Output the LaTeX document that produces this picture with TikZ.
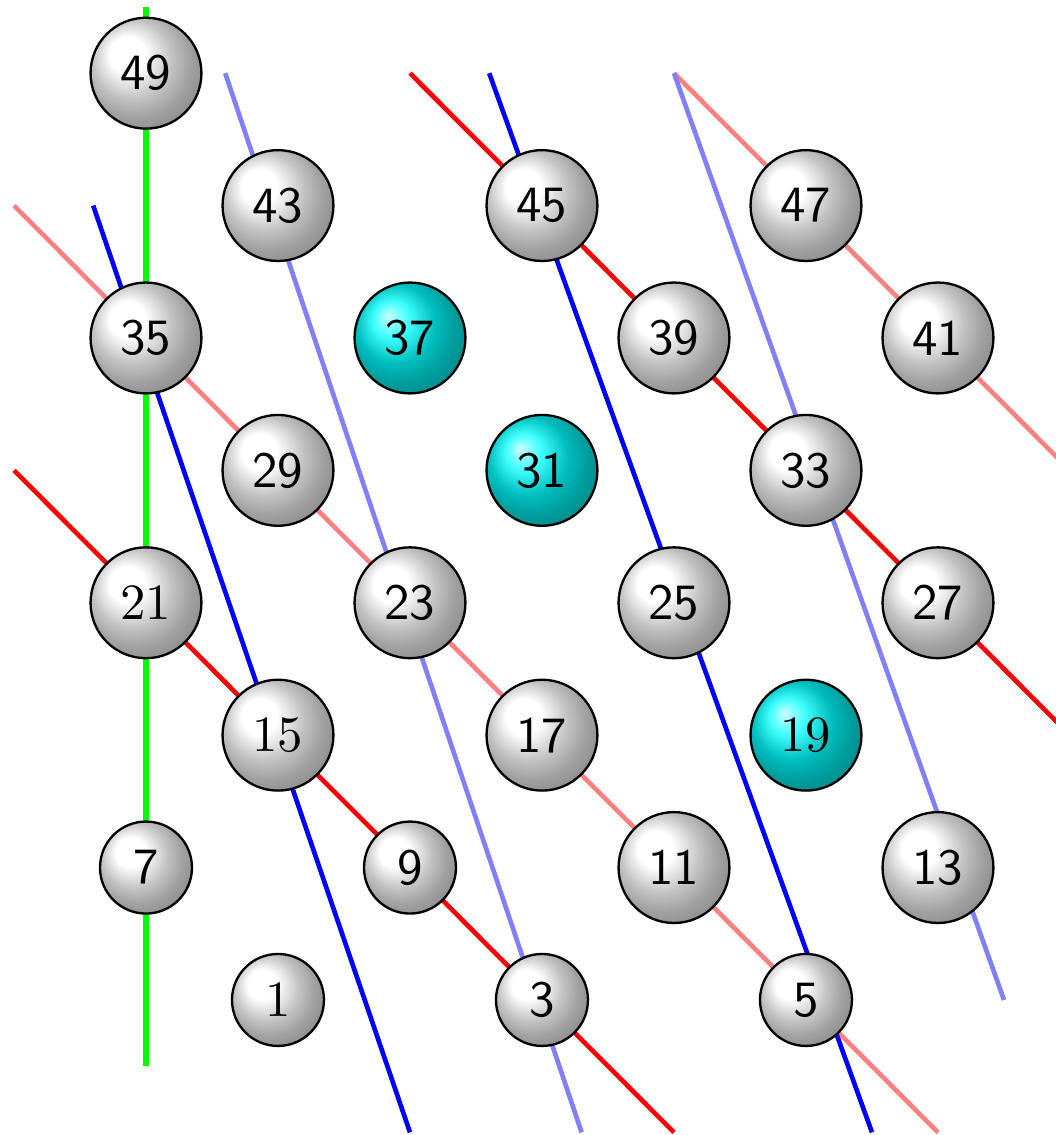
\documentclass[tikz,border=0pt]{standalone}
\usepackage{tikz}
\pgfdeclareradialshading{grayballshade}{\pgfpoint{-10bp}{10bp}}{%
  rgb(0bp)=(1,1,1); rgb(8bp)=(1,1,1); rgb(18bp)=(0.76,0.76,0.76);
  rgb(25bp)=(0.63,0.63,0.63); rgb(35bp)=(0.51,0.51,0.51); rgb(50bp)=(0.38,0.38,0.38)}
\pgfdeclareradialshading{cyanballshade}{\pgfpoint{-10bp}{10bp}}{%
  rgb(0bp)=(0.8,1,1); rgb(8bp)=(0.25,1,1); rgb(18bp)=(0,0.74,0.74);
  rgb(25bp)=(0,0.62,0.62); rgb(35bp)=(0,0.5,0.5); rgb(50bp)=(0,0.36,0.36)}
\begin{document}
\begin{tikzpicture}[y=1.003cm,
  ballbig/.style={circle, draw=black, line width=0.5pt, minimum size=0.84cm, inner sep=0pt, shade, shading=grayballshade, font=\fontsize{10.95}{13}\selectfont\sffamily},
  ballsmall/.style={ballbig, minimum size=0.697cm},
  cyanball/.style={shading=cyanballshade},
  rmtext/.style={font=\fontsize{10.95}{13}\selectfont\rmfamily},
  lgreen/.style={draw=green, line width=1.1pt},
  lred/.style={draw=red, line width=1pt},
  lpink/.style={draw=red!50, line width=1pt},
  lblue/.style={draw=blue, line width=1pt},
  llblue/.style={draw=blue!50, line width=1pt}]
\useasboundingbox (-1.106,-1.02) rectangle (6.894,7.553);
\begin{scope}
\clip (-1.106,-1.02) rectangle (6.894,7.553);
% line end points
\coordinate (g1) at (0,-0.5);   \coordinate (g2) at (0,7.5);
\coordinate (r1a) at (-1,4);    \coordinate (r1b) at (4,-1);
\coordinate (r2a) at (2,7);     \coordinate (r2b) at (7,2);
\coordinate (p1a) at (-1,6);    \coordinate (p1b) at (6,-1);
\coordinate (p2a) at (4,7);     \coordinate (p2b) at (7,4);
\coordinate (b1a) at (-0.4,6);  \coordinate (b1b) at (2,-1);
\coordinate (b2a) at (2.6,7);   \coordinate (b2b) at (5.5,-1);
\coordinate (c1a) at (0.6,7);   \coordinate (c1b) at (3.3,-1);
\coordinate (c2a) at (4,7);     \coordinate (c2b) at (6.5,0);
\draw[lpink] (p1a) -- (p1b);
\draw[lpink] (p2a) -- (p2b);
\draw[llblue] (c1a) -- (c1b);
\draw[llblue] (c2a) -- (c2b);
\draw[lred] (r1a) -- (r1b);
\draw[lred] (r2a) -- (r2b);
\draw[lblue] (b1a) -- (b1b);
\draw[lblue] (b2a) -- (b2b);
\draw[lgreen] (g1) -- (g2);
\end{scope}
% balls
\node[ballsmall, rmtext] (n1) at (1,0) {1};
\node[ballsmall] (n3) at (3,0) {3};
\node[ballsmall] (n5) at (5,0) {5};
\node[ballsmall] (n7) at (0,1) {7};
\node[ballsmall] (n9) at (2,1) {9};
\node[ballbig] (n11) at (4,1) {11};
\node[ballbig] (n13) at (6,1) {13};
\node[ballbig, rmtext] (n15) at (1,2) {15};
\node[ballbig] (n17) at (3,2) {17};
\node[ballbig, cyanball, rmtext] (n19) at (5,2) {19};
\node[ballbig, rmtext] (n21) at (0,3) {21};
\node[ballbig] (n23) at (2,3) {23};
\node[ballbig] (n25) at (4,3) {25};
\node[ballbig] (n27) at (6,3) {27};
\node[ballbig] (n29) at (1,4) {29};
\node[ballbig, cyanball] (n31) at (3,4) {31};
\node[ballbig] (n33) at (5,4) {33};
\node[ballbig] (n35) at (0,5) {35};
\node[ballbig, cyanball] (n37) at (2,5) {37};
\node[ballbig] (n39) at (4,5) {39};
\node[ballbig] (n41) at (6,5) {41};
\node[ballbig] (n43) at (1,6) {43};
\node[ballbig] (n45) at (3,6) {45};
\node[ballbig] (n47) at (5,6) {47};
\node[ballbig] (n49) at (0,7) {49};
\end{tikzpicture}
\end{document}
